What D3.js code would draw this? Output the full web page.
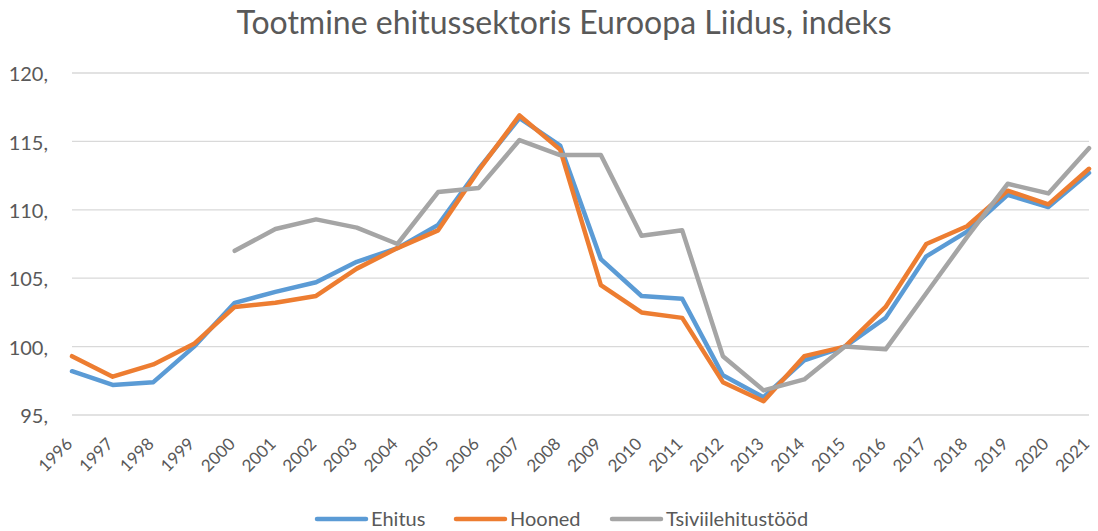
<!DOCTYPE html>
<html>
<head>
<meta charset="utf-8">
<script src="https://cdn.jsdelivr.net/npm/d3@7"></script>
<style>
  body { margin: 0; background: #fff; }
  text { font-family: Lato, "Open Sans", sans-serif; fill: #595959; }
</style>
</head>
<body>
<script>
(function(){

    var years = ["1996","1997","1998","1999","2000","2001","2002","2003","2004","2005","2006","2007","2008",
                 "2009","2010","2011","2012","2013","2014","2015","2016","2017","2018","2019","2020","2021"];

    var ehitus = [98.2, 97.2, 97.4, 100.0, 103.2, 104.0, 104.7, 106.2, 107.2, 108.9, 113.0, 116.7, 114.7,
                  106.4, 103.7, 103.5, 97.9, 96.3, 99.0, 100.0, 102.1, 106.6, 108.4, 111.1, 110.2, 112.7];

    var hooned = [99.3, 97.8, 98.7, 100.2, 102.9, 103.2, 103.7, 105.7, 107.2, 108.5, 112.9, 116.9, 114.4,
                  104.5, 102.5, 102.1, 97.4, 96.0, 99.3, 100.0, 102.9, 107.5, 108.8, 111.4, 110.4, 113.0];

    var tsiviil = [null, null, null, null, 107.0, 108.6, 109.3, 108.7, 107.5, 111.3, 111.6, 115.1, 114.0,
                   114.0, 108.1, 108.5, 99.3, 96.8, 97.6, 100.0, 99.8, 103.9, 108.0, 111.9, 111.2, 114.5];

    var seriesNames = ["Ehitus", "Hooned", "Tsiviilehitustööd"];
    var seriesColors = ["#5B9BD5", "#ED7D31", "#A5A5A5"];
    var yTicks = [95, 100, 105, 110, 115, 120];

    var width = 1098,
        height = 531;

    var svg = d3.select("body")
        .append("svg")
        .attr("width", width)
        .attr("height", height);

    var x = d3.scalePoint()
        .domain(years)
        .range([72, 1089]);

    var y = d3.scaleLinear()
        .domain([95, 120])
        .range([415, 73]);

    //title
    svg.append("text")
        .attr("x", 564)
        .attr("y", 34)
        .attr("text-anchor", "middle")
        .style("font-size", "32px")
        .text("Tootmine ehitussektoris Euroopa Liidus, indeks");

    //gridlines
    svg.append("g")
        .selectAll("line")
        .data(yTicks)
        .enter()
        .append("line")
        .attr("x1", 72)
        .attr("x2", 1089)
        .attr("y1", function(d){ return y(d); })
        .attr("y2", function(d){ return y(d); })
        .style("stroke", "#D9D9D9")
        .style("stroke-width", 1.3);

    //y axis labels
    var yAxis = d3.axisLeft(y)
        .tickValues(yTicks)
        .tickSize(0)
        .tickPadding(0)
        .tickFormat(function(d){ return d + ","; });

    var gy = svg.append("g")
        .attr("transform", "translate(48,0)")
        .call(yAxis);
    gy.select(".domain").remove();
    gy.selectAll("text")
        .attr("dy", "0.38em")
        .style("font-size", "20px")
        .style("font-family", "Lato, sans-serif")
        .style("fill", "#595959");

    //x axis labels
    var xAxis = d3.axisBottom(x)
        .tickSize(0)
        .tickPadding(0);

    var gx = svg.append("g")
        .attr("transform", "translate(0,415)")
        .call(xAxis);
    gx.select(".domain").remove();
    gx.selectAll("text")
        .attr("text-anchor", "end")
        .attr("dx", 0)
        .attr("dy", 0)
        .attr("transform", "translate(1,30) rotate(-45)")
        .style("font-size", "17px")
        .style("font-family", "Lato, sans-serif")
        .style("fill", "#595959");

    //lines
    var allSeries = [ehitus, hooned, tsiviil];

    var line = d3.line()
        .defined(function(d){ return d != null; })
        .x(function(d, i){ return x(years[i]); })
        .y(function(d){ return y(d); });

    svg.append("g")
        .selectAll("path")
        .data(allSeries)
        .enter()
        .append("path")
        .attr("d", line)
        .style("fill", "none")
        .style("stroke", function(d, i){ return seriesColors[i]; })
        .style("stroke-width", 4.5)
        .style("stroke-linejoin", "round")
        .style("stroke-linecap", "round");

    //legend
    var legendX = [315, 454, 610];
    var legend = svg.append("g")
        .selectAll("g")
        .data(seriesNames)
        .enter()
        .append("g")
        .attr("transform", function(d, i){ return "translate(" + legendX[i] + ",519)"; });

    legend.append("line")
        .attr("x1", 2)
        .attr("x2", 51)
        .attr("y1", 0)
        .attr("y2", 0)
        .style("stroke", function(d, i){ return seriesColors[i]; })
        .style("stroke-width", 4.5)
        .style("stroke-linecap", "round");

    legend.append("text")
        .attr("x", 56)
        .attr("y", 7)
        .style("font-size", "20px")
        .text(function(d){ return d; });

})();
</script>
</body>
</html>
